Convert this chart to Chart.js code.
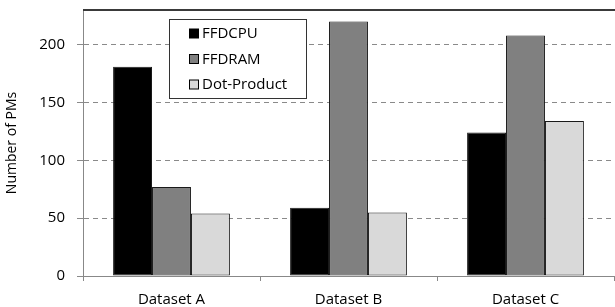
<!DOCTYPE html>
<html>
<head>
<meta charset="utf-8">
<script src="https://cdn.jsdelivr.net/npm/chart.js@4/dist/chart.umd.min.js"></script>
<style>
  html, body { margin: 0; padding: 0; background: #fff; }
  #wrap { width: 615px; height: 307px; position: relative; }
</style>
</head>
<body>
<div id="wrap"><canvas id="c"></canvas></div>
<script>
const categories = ['Dataset A', 'Dataset B', 'Dataset C'];
const ffdcpu = [181, 59, 124];
const ffdram = [77, 220, 208];
const dotProduct = [54, 55, 134];
const seriesNames = ['FFDCPU', 'FFDRAM', 'Dot-Product'];
const yTickValues = [0, 50, 100, 150, 200];
const yMax = 230;
const yTitle = 'Number of PMs';

const FONT = "'Open Sans', 'Liberation Sans', sans-serif";

const frameAndLegend = {
  id: 'frameAndLegend',
  afterDraw(chart) {
    const ctx = chart.ctx;
    const a = chart.chartArea;
    ctx.save();
    ctx.strokeStyle = '#3a3a3a';
    ctx.lineWidth = 2;
    ctx.beginPath();
    ctx.moveTo(a.left, a.top);
    ctx.lineTo(a.right + 1, a.top);
    ctx.stroke();
    const bx = 169.5, by = 19.5, bw = 137, bh = 79;
    ctx.fillStyle = '#fff';
    ctx.fillRect(bx, by, bw, bh);
    ctx.strokeStyle = '#333';
    ctx.lineWidth = 1;
    ctx.strokeRect(bx, by, bw, bh);
    ctx.font = '15px ' + FONT;
    ctx.textBaseline = 'middle';
    ctx.textAlign = 'left';
    chart.data.datasets.forEach((ds, i) => {
      const cy = 33.5 + i * 25.5;
      ctx.fillStyle = ds.backgroundColor;
      ctx.fillRect(189.5, cy - 4.5, 9, 9);
      ctx.strokeStyle = '#000';
      ctx.strokeRect(189.5, cy - 4.5, 9, 9);
      ctx.fillStyle = '#000';
      ctx.fillText(ds.label, 202, cy + 0.5);
    });
    ctx.restore();
  }
};

new Chart(document.getElementById('c'), {
  type: 'bar',
  data: {
    labels: categories,
    datasets: [
      { label: seriesNames[0], data: ffdcpu, backgroundColor: '#000000' },
      { label: seriesNames[1], data: ffdram, backgroundColor: '#808080' },
      { label: seriesNames[2], data: dotProduct, backgroundColor: '#d9d9d9' }
    ].map(d => Object.assign(d, { borderColor: '#1a1a1a', borderWidth: 1, borderSkipped: false, categoryPercentage: 0.66, barPercentage: 1.0 }))
  },
  options: {
    responsive: true,
    maintainAspectRatio: false,
    animation: false,
    devicePixelRatio: 1,
    layout: { padding: { left: 0, right: 1, top: 10, bottom: 0 } },
    plugins: { legend: { display: false }, tooltip: { enabled: false } },
    scales: {
      x: {
        grid: { display: true, drawOnChartArea: false, drawTicks: true, tickLength: 5, color: '#888', offset: true },
        border: { display: true, color: '#888', width: 1 },
        ticks: { color: '#000', font: { family: FONT, size: 15 }, padding: 10, maxRotation: 0 },
        afterFit(s) { s.height = 31; s.paddingLeft = 0; s.paddingRight = 0; }
      },
      y: {
        min: 0,
        max: yMax,
        afterBuildTicks(s) { s.ticks = yTickValues.map(v => ({ value: v })); },
        grid: { color: '#8a8a8a', tickColor: '#8a8a8a', tickLength: 6, tickBorderDash: [], lineWidth: 1 },
        border: { display: true, color: '#888', width: 1, dash: [5, 4] },
        ticks: { color: '#000', font: { family: FONT, size: 15 }, padding: 12 },
        title: { display: true, text: yTitle, color: '#000', font: { family: FONT, size: 14 }, padding: { top: 4, bottom: 0 } },
        afterFit(s) { s.width = 83; s.paddingTop = 0; s.paddingBottom = 0; }
      }
    }
  },
  plugins: [frameAndLegend]
});
</script>
</body>
</html>
